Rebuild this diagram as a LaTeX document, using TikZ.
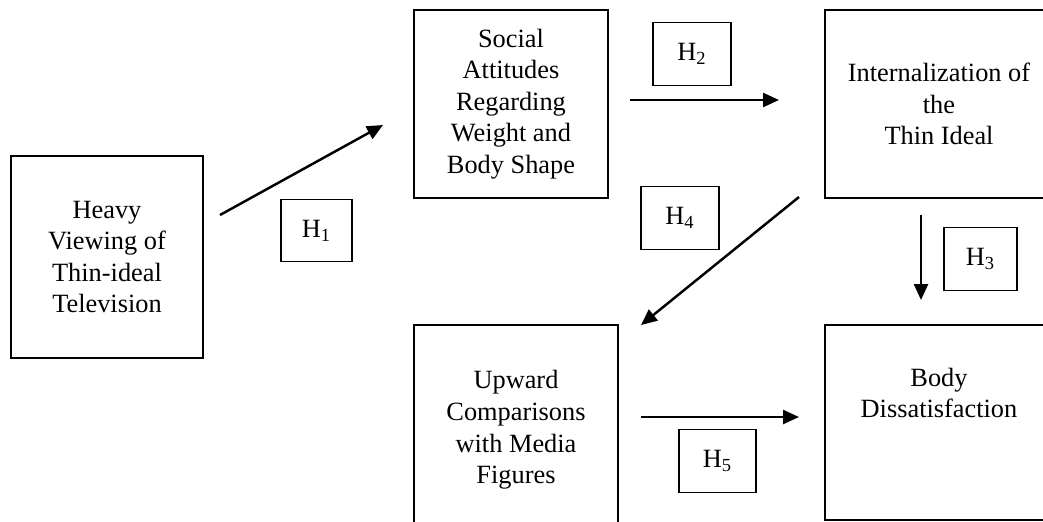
\documentclass[tikz,border=0pt]{standalone}
\usepackage{fontspec}
\setmainfont{Liberation Serif}
\usetikzlibrary{arrows.meta,positioning}

\begin{document}
\begin{tikzpicture}[x=0.02cm,y=-0.02cm,
		box/.style={draw,line width=0.8pt,inner sep=0pt,align=center,font=\fontsize{15}{18}\selectfont},
		hyp/.style={draw,line width=0.8pt,minimum height=1.25cm,font=\fontsize{15}{18}\selectfont},
		link/.style={line width=1.4pt,-{Triangle[length=0.32cm,width=0.28cm]}}]
				\useasboundingbox (0,0) rectangle (1043,521);
				\clip (0,0) rectangle (1043,521);
				
				% boxes
				\node[box,minimum width=3.84cm,minimum height=4.04cm] (tv) at (107,257) {Heavy\\Viewing of\\Thin-ideal\\Television};
				\node[box,minimum width=3.88cm,minimum height=3.76cm] (att) at (511,104) {Social\\Attitudes\\Regarding\\Weight and\\Body Shape};
				\node[box,minimum width=4.56cm,minimum height=3.76cm] (int) at (939,104) {Internalization of\\the\\Thin Ideal};
				\node[box,minimum width=4.08cm,minimum height=4.2cm] (cmp) at (516,430) {Upward\\Comparisons\\with Media\\Figures};
				\node[box,minimum width=4.56cm,minimum height=3.9cm] (dis) at (939,422.5) {};
				\node[box,draw=none] (distxt) at (939,393) {Body\\Dissatisfaction};
				
				% hypotheses
				\node[hyp,minimum width=1.42cm] (h1) at (316.5,230.5) {H\textsubscript{1}};
				\node[hyp,minimum width=1.56cm] (h2) at (692,54) {H\textsubscript{2}};
				\node[hyp,minimum width=1.46cm] (h3) at (980.5,259) {H\textsubscript{3}};
				\node[hyp,minimum width=1.56cm] (h4) at (680,218) {H\textsubscript{4}};
				\node[hyp,minimum width=1.54cm] (h5) at (717.5,461) {H\textsubscript{5}};
				
				% arrows
				\coordinate (s1) at (220,215);
				\coordinate (e1) at (383,125);
				\coordinate (s2) at (630,100);
				\coordinate (e2) at (779,100);
				\coordinate (s3) at (921,215);
				\coordinate (e3) at (921,300);
				\coordinate (s4) at (799,197);
				\coordinate (e4) at (641,325);
				\coordinate (s5) at (641,417);
				\coordinate (e5) at (799,417);
				
				\foreach \x in {1,...,5}{
					\draw[link] (s\x) -- (e\x);}
			\end{tikzpicture}
\end{document}
